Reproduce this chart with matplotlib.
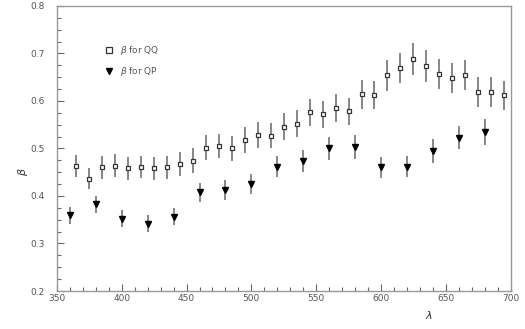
import numpy as np
import matplotlib
matplotlib.use('Agg')
import matplotlib.pyplot as plt
from matplotlib.lines import Line2D
from matplotlib.ticker import MultipleLocator

# beta for QQ (open squares)
lam_qq = np.arange(365, 700, 10)
beta_qq = [0.463, 0.436, 0.460, 0.464, 0.458, 0.461, 0.458, 0.460, 0.467, 0.474,
           0.502, 0.505, 0.500, 0.518, 0.528, 0.527, 0.546, 0.552, 0.576, 0.572,
           0.585, 0.578, 0.614, 0.613, 0.654, 0.670, 0.688, 0.674, 0.657, 0.648,
           0.655, 0.619, 0.619, 0.612]
err_qq = [0.023, 0.022, 0.024, 0.024, 0.024, 0.024, 0.024, 0.024, 0.025, 0.026,
          0.026, 0.026, 0.026, 0.027, 0.027, 0.027, 0.028, 0.028, 0.029, 0.029,
          0.029, 0.029, 0.030, 0.030, 0.032, 0.032, 0.034, 0.033, 0.032, 0.032,
          0.032, 0.031, 0.031, 0.031]

# beta for QP (filled triangles)
lam_qp = np.arange(360, 690, 20)
beta_qp = [0.359, 0.383, 0.352, 0.342, 0.356, 0.408, 0.413, 0.425, 0.462, 0.473,
           0.500, 0.503, 0.460, 0.462, 0.495, 0.523, 0.535]
err_qp = [0.018, 0.018, 0.018, 0.018, 0.018, 0.020, 0.021, 0.021, 0.023, 0.023,
          0.025, 0.025, 0.023, 0.023, 0.025, 0.025, 0.027]

grey = '#666666'
plt.rcParams['font.family'] = 'DejaVu Sans'

fig = plt.figure(figsize=(5.25, 3.29), dpi=100)
ax = fig.add_axes([0.1086, 0.1155, 0.8638, 0.8663])

ax.errorbar(lam_qq, beta_qq, yerr=err_qq, fmt='s', ms=3.4, mfc='white', mec='#333333',
            mew=0.9, ecolor=grey, elinewidth=1.1, capsize=0)
ax.errorbar(lam_qp, beta_qp, yerr=err_qp, fmt='v', ms=4.3, mfc='black', mec='black',
            ecolor=grey, elinewidth=1.1, capsize=0)

ax.set_xlim(350, 700)
ax.set_ylim(0.2, 0.8)
ax.xaxis.set_major_locator(MultipleLocator(50))
ax.xaxis.set_minor_locator(MultipleLocator(10))
ax.yaxis.set_major_locator(MultipleLocator(0.1))
ax.yaxis.set_minor_locator(MultipleLocator(0.025))
ax.tick_params(which='both', direction='in', color=grey, labelcolor='#555555',
               labelsize=6.5, top=False, right=False)
ax.tick_params(which='major', length=5, width=0.8)
ax.tick_params(which='minor', length=3, width=0.8)
ax.tick_params(axis='y', pad=9)
ax.tick_params(axis='x', pad=2)
ax.yaxis.set_major_formatter(matplotlib.ticker.FormatStrFormatter('%.1f'))
for s in ax.spines.values():
    s.set_color('#999999')
    s.set_linewidth(1.0)

ax.text(637, 0.15, r'$\lambda$', ha='center', va='center', fontsize=8, color='#333333')
ax.text(-0.076, 0.42, r'$\beta$', transform=ax.transAxes, ha='center', va='center',
        rotation=90, fontsize=8, color='#333333')

handles = [Line2D([], [], ls='none', marker='s', ms=4, mfc='white', mec='#333333', mew=0.9),
           Line2D([], [], ls='none', marker='v', ms=4.5, mfc='black', mec='black')]
leg = ax.legend(handles, [r'$\beta$ for QQ', r'$\beta$ for QP'], loc='upper left',
                bbox_to_anchor=(0.085, 0.895), frameon=False, fontsize=6.5,
                handletextpad=0.6, labelspacing=0.9, handlelength=1.2)
for t in leg.get_texts():
    t.set_color('#555555')

fig.savefig('out.png', dpi=100)
